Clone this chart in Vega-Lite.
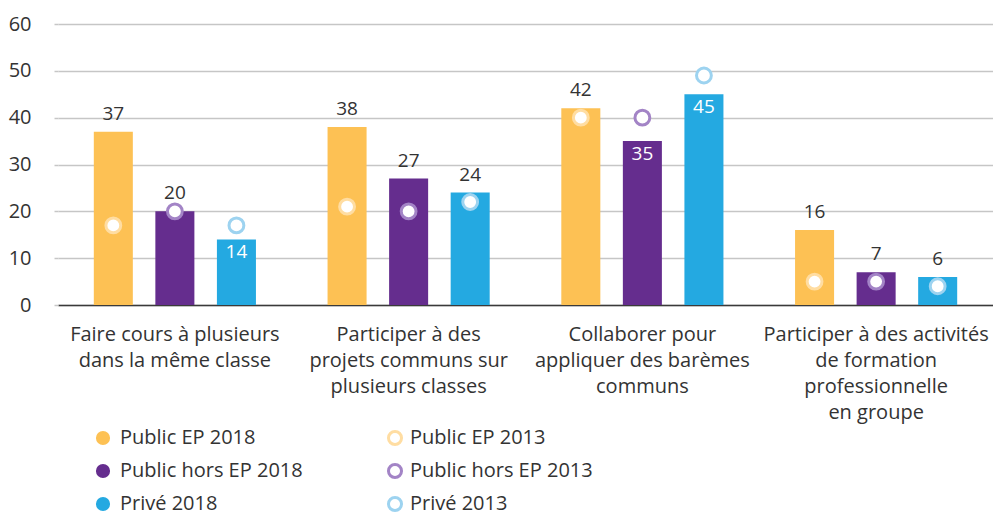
{
  "$schema": "https://vega.github.io/schema/vega-lite/v6.json",
  "width": 935,
  "height": 281,
  "autosize": {"type": "none"},
  "padding": {"left": 58, "top": 24, "right": 0, "bottom": 211},
  "config": {"view": {"stroke": null}, "font": "Open Sans", "background": "white"},
  "data": {
    "values": [
      {"cat": "Faire cours à plusieurs|dans la même classe", "s18": "Public EP 2018", "s13": "Public EP 2013", "v18": 37, "v13": 17},
      {"cat": "Faire cours à plusieurs|dans la même classe", "s18": "Public hors EP 2018", "s13": "Public hors EP 2013", "v18": 20, "v13": 20},
      {"cat": "Faire cours à plusieurs|dans la même classe", "s18": "Privé 2018", "s13": "Privé 2013", "v18": 14, "v13": 17},
      {"cat": "Participer à des|projets communs sur|plusieurs classes", "s18": "Public EP 2018", "s13": "Public EP 2013", "v18": 38, "v13": 21},
      {"cat": "Participer à des|projets communs sur|plusieurs classes", "s18": "Public hors EP 2018", "s13": "Public hors EP 2013", "v18": 27, "v13": 20},
      {"cat": "Participer à des|projets communs sur|plusieurs classes", "s18": "Privé 2018", "s13": "Privé 2013", "v18": 24, "v13": 22},
      {"cat": "Collaborer pour|appliquer des barèmes|communs", "s18": "Public EP 2018", "s13": "Public EP 2013", "v18": 42, "v13": 40},
      {"cat": "Collaborer pour|appliquer des barèmes|communs", "s18": "Public hors EP 2018", "s13": "Public hors EP 2013", "v18": 35, "v13": 40},
      {"cat": "Collaborer pour|appliquer des barèmes|communs", "s18": "Privé 2018", "s13": "Privé 2013", "v18": 45, "v13": 49},
      {"cat": "Participer à des activités|de formation|professionnelle|en groupe", "s18": "Public EP 2018", "s13": "Public EP 2013", "v18": 16, "v13": 5},
      {"cat": "Participer à des activités|de formation|professionnelle|en groupe", "s18": "Public hors EP 2018", "s13": "Public hors EP 2013", "v18": 7, "v13": 5},
      {"cat": "Participer à des activités|de formation|professionnelle|en groupe", "s18": "Privé 2018", "s13": "Privé 2013", "v18": 6, "v13": 4}
    ]
  },
  "encoding": {
    "x": {
      "field": "cat", "type": "nominal", "sort": null,
      "scale": {"paddingInner": 0.21, "paddingOuter": 0.105},
      "axis": {
        "title": null, "labelAngle": 0, "ticks": false,
        "domainColor": "#3a3a3a", "domainWidth": 1.5,
        "labelFontSize": 20, "labelColor": "#333333", "labelPadding": 19,
        "labelExpr": "split(datum.label, '|')", "labelLineHeight": 26,
        "labelLimit": 400, "labelOverlap": false
      }
    },
    "xOffset": {
      "field": "s18", "type": "nominal",
      "sort": ["Public EP 2018", "Public hors EP 2018", "Privé 2018"],
      "scale": {"paddingInner": 0.366, "paddingOuter": 0.183}
    }
  },
  "layer": [
    {
      "mark": {"type": "bar"},
      "encoding": {
        "y": {
          "field": "v18", "type": "quantitative",
          "scale": {"domain": [0, 60]},
          "axis": {
            "title": null, "values": [0, 10, 20, 30, 40, 50, 60],
            "domain": false, "grid": true, "gridColor": "#c6c6c6", "gridWidth": 1.5,
            "ticks": true, "tickSize": 4, "tickColor": "#c6c6c6", "tickWidth": 1.5,
            "labelFontSize": 20, "labelColor": "#333333", "labelPadding": 23
          }
        },
        "fill": {
          "field": "s18", "type": "nominal",
          "scale": {"domain": ["Public EP 2018", "Public hors EP 2018", "Privé 2018"], "range": ["#FDC154", "#652D8E", "#24A9E1"]},
          "legend": {
            "title": null, "orient": "none", "legendX": 35, "legendY": 404,
            "direction": "vertical", "symbolType": "circle", "symbolSize": 200,
            "symbolStrokeWidth": 0, "labelFontSize": 20, "labelColor": "#333333",
            "rowPadding": 13, "labelOffset": 7, "labelLimit": 300
          }
        }
      }
    },
    {
      "mark": {"type": "point", "filled": true, "fill": "white", "strokeWidth": 3, "size": 220, "opacity": 1, "strokeOpacity": 1},
      "encoding": {
        "y": {"field": "v13", "type": "quantitative"},
        "stroke": {
          "field": "s13", "type": "nominal",
          "scale": {"domain": ["Public EP 2013", "Public hors EP 2013", "Privé 2013"], "range": ["#FFDDA2", "#A384C6", "#9DD3F0"]},
          "legend": {
            "title": null, "orient": "none", "legendX": 327, "legendY": 404,
            "direction": "vertical", "symbolType": "circle", "symbolSize": 170,
            "symbolFillColor": "white", "symbolStrokeWidth": 3,
            "labelFontSize": 20, "labelColor": "#333333",
            "rowPadding": 7, "labelOffset": 5, "labelLimit": 300
          }
        }
      }
    },
    {
      "transform": [{"filter": "datum.v13 <= datum.v18"}],
      "mark": {"type": "text", "baseline": "alphabetic", "dy": -12, "fontSize": 19, "color": "#333333"},
      "encoding": {
        "y": {"field": "v18", "type": "quantitative"},
        "text": {"field": "v18", "type": "quantitative"}
      }
    },
    {
      "transform": [{"filter": "datum.v13 > datum.v18"}],
      "mark": {"type": "text", "baseline": "alphabetic", "dy": 19, "fontSize": 19, "color": "white"},
      "encoding": {
        "y": {"field": "v18", "type": "quantitative"},
        "text": {"field": "v18", "type": "quantitative"}
      }
    }
  ]
}
